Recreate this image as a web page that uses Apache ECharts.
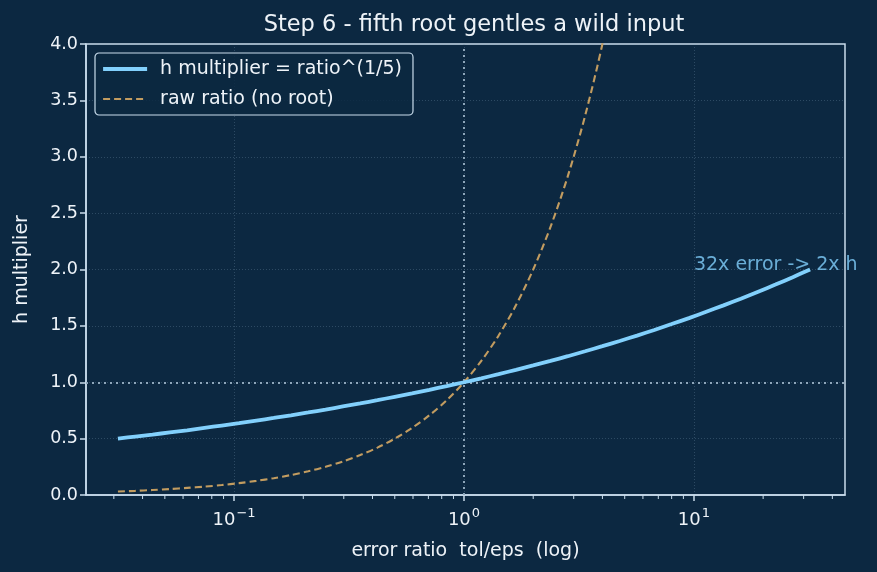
<!DOCTYPE html>
<html>
<head>
<meta charset="utf-8">
<script src="https://cdn.jsdelivr.net/npm/echarts@6/dist/echarts.min.js"></script>
<style>
  html, body { margin: 0; padding: 0; background: #0c2841; }
  #chart { width: 877px; height: 572px; }
</style>
</head>
<body>
<div id="chart"></div>
<script>
// error ratio tol/eps, sampled on the log axis
const ratio = [
  0.03125, 0.03716, 0.04419, 0.05256, 0.0625, 0.07433, 0.08839, 0.10511,
  0.125, 0.1487, 0.1768, 0.2102, 0.25, 0.2973, 0.3536, 0.4204,
  0.5, 0.5946, 0.7071, 0.8409, 1, 1.1892, 1.4142, 1.6818,
  2, 2.3784, 2.8284, 3.3636, 4, 4.7568, 5.6569, 6.7272,
  8, 9.5137, 11.314, 13.454, 16, 19.027, 22.627, 26.909, 32
];
// h multiplier
const hMult = [
  0.5, 0.518, 0.536, 0.555, 0.574, 0.595, 0.616, 0.637,
  0.66, 0.683, 0.707, 0.732, 0.758, 0.785, 0.812, 0.841,
  0.871, 0.901, 0.933, 0.966, 1, 1.035, 1.072, 1.11,
  1.149, 1.189, 1.231, 1.275, 1.32, 1.366, 1.414, 1.464,
  1.516, 1.569, 1.625, 1.682, 1.741, 1.803, 1.866, 1.932, 2
];
// dashed curve: raw ratio, runs off the top near 4
const rawRatio = [
  0.031, 0.037, 0.044, 0.053, 0.063, 0.074, 0.088, 0.105,
  0.125, 0.149, 0.177, 0.21, 0.25, 0.297, 0.354, 0.42,
  0.5, 0.595, 0.707, 0.841, 1, 1.189, 1.414, 1.682,
  2, 2.378, 2.828, 3.364, 4, 4.757, 5.657, 6.727,
  8, 9.514, 11.31, 13.45, 16, 19.03, 22.63, 26.91, 32
];
const majorX = [0.1, 1, 10];
const minorX = [0.03, 0.04, 0.05, 0.06, 0.07, 0.08, 0.09,
  0.2, 0.3, 0.4, 0.5, 0.6, 0.7, 0.8, 0.9,
  2, 3, 4, 5, 6, 7, 8, 9, 20, 30, 40];
const expLabel = { 0.1: '−1', 1: '0', 10: '1' };
const note = { x: 10, y: 2.0, text: '32x error -> 2x h' };

const FONT = 'DejaVu Sans';
const AXIS = '#c9dcec';
const TEXT = '#eef3f8';
const REF = '#8ea6ba';
const BLUE = '#82d0fc';
const TAN = '#c29c60';

const chart = echarts.init(document.getElementById('chart'), null, { renderer: 'canvas' });

const pairs = (xs, ys) => xs.map((x, i) => [x, ys[i]]);
const grid = { type: [1, 2], color: 'rgba(150,180,205,0.35)', width: 0.7 };

chart.setOption({
  backgroundColor: '#0c2841',
  animation: false,
  textStyle: { fontFamily: FONT },
  title: {
    text: 'Step 6 - fifth root gentles a wild input',
    left: 469, top: 9, textAlign: 'center',
    textStyle: { color: TEXT, fontSize: 22.5, fontWeight: 'normal', fontFamily: FONT }
  },
  legend: {
    orient: 'vertical', left: 95, top: 53,
    data: [
      { name: 'h multiplier = ratio^(1/5)', lineStyle: { width: 4.2 } },
      { name: 'raw ratio (no root)', lineStyle: { width: 2.2 } }
    ],
    itemWidth: 44, itemHeight: 20, itemGap: 10,
    padding: [6, 11, 6, 6],
    backgroundColor: 'rgba(12,40,65,0.85)',
    borderColor: AXIS, borderWidth: 1.2, borderRadius: 4,
    itemStyle: { opacity: 0 },
    textStyle: { color: TEXT, fontSize: 19, lineHeight: 20, fontFamily: FONT, padding: [0, 0, 0, 8] }
  },
  grid: {
    left: 86, right: 32, top: 44, bottom: 77,
    outerBoundsMode: 'none', containLabel: false,
    show: true, borderColor: AXIS, borderWidth: 1.5,
    backgroundColor: 'transparent'
  },
  xAxis: {
    type: 'log', logBase: 10, min: 0.0227, max: 45.4,
    name: 'error ratio  tol/eps  (log)', nameLocation: 'middle', nameGap: 47,
    nameTextStyle: { color: TEXT, fontSize: 19, fontFamily: FONT },
    axisLine: { lineStyle: { color: AXIS, width: 1.5 } },
    axisTick: { customValues: majorX, length: 6, lineStyle: { color: AXIS, width: 1.5 } },
    axisLabel: {
      customValues: majorX, margin: 12,
      formatter: v => '{b|10}{s|' + (expLabel[v] || '') + '}',
      rich: {
        b: { color: TEXT, fontSize: 18, fontFamily: FONT, lineHeight: 22, verticalAlign: 'bottom' },
        s: { color: TEXT, fontSize: 13, fontFamily: FONT, lineHeight: 22, verticalAlign: 'top', padding: [0, 0, 0, 1] }
      }
    },
    splitLine: { show: true, lineStyle: grid }
  },
  yAxis: {
    type: 'value', min: 0, max: 4, interval: 0.5,
    name: 'h multiplier', nameLocation: 'middle', nameGap: 54, nameRotate: 90,
    nameTextStyle: { color: TEXT, fontSize: 19, fontFamily: FONT },
    axisLine: { show: true, lineStyle: { color: AXIS, width: 1.5 } },
    axisTick: { show: true, length: 6, lineStyle: { color: AXIS, width: 1.5 } },
    axisLabel: { color: TEXT, fontSize: 17.5, margin: 8, fontFamily: FONT, formatter: v => v.toFixed(1) },
    splitLine: { show: true, lineStyle: grid }
  },
  series: [
    {
      name: 'raw ratio (no root)', type: 'line', data: pairs(ratio, rawRatio),
      showSymbol: false, symbol: 'none', smooth: 0.3, z: 3,
      lineStyle: { color: TAN, width: 2.1, type: [7, 4] },
      itemStyle: { color: TAN }
    },
    {
      name: 'h multiplier = ratio^(1/5)', type: 'line', data: pairs(ratio, hMult),
      showSymbol: false, symbol: 'none', smooth: 0.3, z: 4,
      lineStyle: { color: BLUE, width: 3.8 },
      itemStyle: { color: BLUE },
      markLine: {
        silent: true, symbol: 'none', label: { show: false }, z: 2,
        lineStyle: { color: REF, width: 2, type: [2, 4] },
        data: [{ yAxis: 1 }, { xAxis: 1 }]
      }
    },
    {
      name: 'note', type: 'scatter', symbolSize: 0, z: 5,
      data: [[note.x, note.y]],
      label: {
        show: true, formatter: note.text, position: [0, 5],
        align: 'left', verticalAlign: 'bottom',
        color: BLUE, fontSize: 19, fontFamily: FONT
      }
    },
    {
      name: 'minor', type: 'custom', z: 6, silent: true,
      data: minorX.map(x => [x, 0]),
      renderItem: (params, api) => {
        const p = api.coord([api.value(0), 0]);
        return {
          type: 'line',
          shape: { x1: p[0], y1: p[1], x2: p[0], y2: p[1] + 4 },
          style: { stroke: AXIS, lineWidth: 1 }
        };
      }
    }
  ]
});
</script>
</body>
</html>
